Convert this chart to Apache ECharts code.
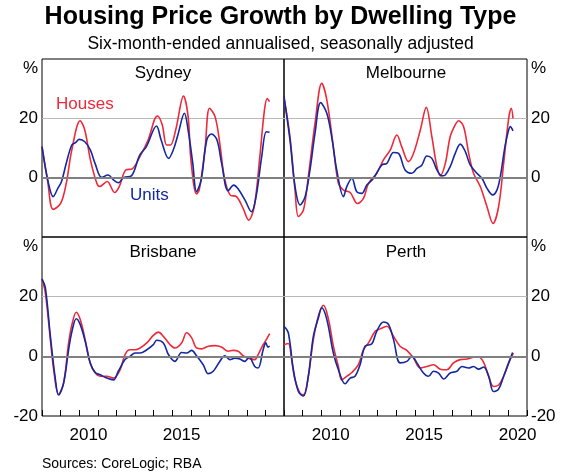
<!DOCTYPE html>
<html>
<head>
<meta charset="UTF-8">
<title>Housing Price Growth by Dwelling Type</title>
<script src="https://cdn.jsdelivr.net/npm/echarts@6/dist/echarts.min.js"></script>
</head>
<body style="margin:0;background:#fff;">
<div id="chart" style="width:561px;height:474px;"></div>
<script>
// six-month-ended annualised growth, per cent, [year, value]
var sydneyHouses = [[2008.0,10.5],[2008.3,-1],[2008.6,-10.7],[2009.0,-8.7],[2009.3,-2],[2009.6,9.3],[2010.05,19.2],[2010.3,16],[2010.6,6],[2010.95,-2],[2011.1,-3],[2011.5,-1.3],[2011.9,-5],[2012.15,-3],[2012.5,2.6],[2012.85,3],[2013.3,7.6],[2013.7,12.7],[2014.2,20.8],[2014.45,18],[2014.7,11],[2014.9,11],[2015.2,16.6],[2015.6,27.5],[2015.85,20.5],[2016.0,6],[2016.3,-5.5],[2016.45,-4],[2016.75,9.3],[2017.0,23.4],[2017.3,20.5],[2017.55,11.6],[2017.8,0],[2018.1,-5.8],[2018.45,-6.4],[2018.8,-10.3],[2019.1,-14.3],[2019.4,-9.8],[2019.7,7],[2019.95,22.8],[2020.1,26.7],[2020.22,25.6]];
var sydneyUnits = [[2008.0,10.5],[2008.35,-2],[2008.6,-6.4],[2008.85,-3.6],[2009.05,-1.3],[2009.3,4.8],[2009.6,11],[2009.8,11.8],[2010.0,12.9],[2010.3,12.1],[2010.6,9.3],[2010.85,4.8],[2011.2,0.1],[2011.55,0.9],[2011.85,-0.8],[2012.1,-1.7],[2012.4,0.1],[2012.8,0.6],[2013.25,7.6],[2013.6,10.4],[2014.15,17.4],[2014.4,12.7],[2014.8,6.5],[2015.05,9.3],[2015.3,14.4],[2015.65,21.7],[2015.85,16],[2016.1,4.8],[2016.3,-4.7],[2016.55,-0.8],[2016.85,12.7],[2017.1,14.7],[2017.4,12.7],[2017.65,4.8],[2018.0,-4.4],[2018.3,-2.5],[2018.55,-3.9],[2018.9,-7.5],[2019.25,-11.5],[2019.5,-6.4],[2019.8,7],[2020.05,15.5],[2020.22,15.3]];

var melbourneHouses = [[2008.0,27],[2008.32,13.8],[2008.59,-4.2],[2008.77,-13.1],[2009.04,-10.9],[2009.3,0.3],[2009.66,18.3],[2010.02,31.8],[2010.29,26.2],[2010.64,10.4],[2010.91,-1.9],[2011.18,-4.2],[2011.54,-5],[2011.93,-8.7],[2012.25,-7],[2012.52,-1.9],[2012.96,1.5],[2013.32,6],[2013.68,9.3],[2014.04,14.4],[2014.3,10.4],[2014.66,5.4],[2014.93,8.2],[2015.29,16],[2015.61,23.7],[2015.91,13.8],[2016.18,3.7],[2016.36,0.6],[2016.63,4.8],[2016.89,13.8],[2017.16,17.8],[2017.34,19.2],[2017.61,17.2],[2017.88,8.2],[2018.14,1.5],[2018.5,-3],[2018.86,-9.8],[2019.18,-15.4],[2019.48,-9.8],[2019.75,4.8],[2020.02,20],[2020.16,23.4],[2020.25,20]];
var melbourneUnits = [[2008.0,27.3],[2008.32,12.7],[2008.59,-3],[2008.86,-9.2],[2009.13,-6.4],[2009.39,2.6],[2009.66,15],[2009.96,25.3],[2010.29,21.7],[2010.55,13.8],[2010.82,2.6],[2011.18,-6.4],[2011.36,-3],[2011.63,-0.2],[2011.89,-4.7],[2012.16,-5.3],[2012.43,-2.5],[2012.79,-0.2],[2013.23,4.3],[2013.5,4.8],[2013.86,8.5],[2014.13,8.2],[2014.48,2.6],[2014.84,1.5],[2015.11,3.1],[2015.38,4.3],[2015.64,7.3],[2015.91,6.5],[2016.18,2.6],[2016.45,0.6],[2016.63,0.9],[2016.89,3.7],[2017.16,8.2],[2017.43,11.3],[2017.7,8.8],[2017.96,4.3],[2018.32,1.5],[2018.59,-0.2],[2018.86,-3.6],[2019.16,-5.8],[2019.39,-4.2],[2019.57,0.3],[2019.79,9.3],[2019.93,13.8],[2020.11,17.2],[2020.25,15.8]];

var brisbaneHouses = [[2008.0,25.8],[2008.18,21.3],[2008.45,5.6],[2008.63,-4.5],[2008.89,-12.9],[2009.16,-9],[2009.43,4.5],[2009.61,10.7],[2009.84,14.8],[2010.05,12.4],[2010.32,5.6],[2010.59,-2.2],[2010.86,-5.6],[2011.13,-6.7],[2011.48,-6.7],[2011.84,-7.3],[2012.2,-4.5],[2012.46,0.6],[2012.73,2.2],[2013.0,2.2],[2013.27,2.8],[2013.63,4.5],[2013.98,7],[2014.25,8.1],[2014.52,6.7],[2014.88,3.9],[2015.14,2.8],[2015.5,4.5],[2015.77,7.9],[2016.04,6.2],[2016.3,2.8],[2016.57,2.5],[2016.93,3.4],[2017.29,3.6],[2017.64,3.1],[2018.0,1.7],[2018.27,2],[2018.54,1.7],[2018.8,0.2],[2019.07,-0.6],[2019.43,-1.1],[2019.61,0.6],[2019.88,3.9],[2020.05,5.6],[2020.23,7.6]];
var brisbaneUnits = [[2008.0,26],[2008.18,23],[2008.45,6.7],[2008.71,-7.3],[2008.89,-12.9],[2009.16,-9],[2009.43,2.2],[2009.61,8.4],[2009.84,12.6],[2010.05,10.7],[2010.32,5],[2010.59,-2.2],[2010.86,-5.4],[2011.13,-6.2],[2011.48,-7.3],[2011.84,-7.9],[2012.1,-5],[2012.46,-1.1],[2012.73,0],[2013.0,1.1],[2013.27,1.1],[2013.63,2.2],[2013.98,3.9],[2014.16,5.4],[2014.52,4.5],[2014.79,0.6],[2015.14,-1.7],[2015.5,1.3],[2015.77,1.1],[2016.04,2],[2016.3,0.2],[2016.66,-2.8],[2016.93,-5.8],[2017.2,-5],[2017.55,-1.7],[2017.82,0.2],[2018.09,-1.1],[2018.36,-0.6],[2018.63,-0.9],[2018.89,-1.7],[2019.13,-0.3],[2019.43,-3.4],[2019.61,-3.9],[2019.88,2.2],[2020.02,4.5],[2020.14,3.1],[2020.23,3.4]];

var perthHouses = [[2008.0,3.9],[2008.23,4.3],[2008.41,-1.1],[2008.59,-7.9],[2008.86,-12.4],[2009.04,-12.9],[2009.3,-6.7],[2009.57,5.6],[2009.84,13.5],[2010.11,17.1],[2010.38,12.4],[2010.64,3.4],[2010.91,-3.4],[2011.09,-7.9],[2011.36,-6.7],[2011.63,-5.4],[2011.98,-2.8],[2012.25,2.2],[2012.52,4.5],[2012.88,8.4],[2013.14,9.2],[2013.5,10.1],[2013.86,6.7],[2014.21,3.4],[2014.57,2],[2014.93,-0.6],[2015.29,-3.9],[2015.64,-3.4],[2016.0,-2.8],[2016.36,-4.3],[2016.71,-4.5],[2017.07,-2.2],[2017.43,-1.1],[2017.79,-0.9],[2018.14,-0.3],[2018.41,-0.2],[2018.68,-2],[2018.95,-6.7],[2019.21,-10.1],[2019.48,-9.6],[2019.75,-6.7],[2020.02,-2.2],[2020.27,1.1]];
var perthUnits = [[2008.0,10.1],[2008.23,7.9],[2008.5,-4.5],[2008.77,-11.8],[2009.04,-13.3],[2009.3,-6.7],[2009.57,6.7],[2009.84,12.9],[2010.02,16.3],[2010.29,12.4],[2010.64,1.1],[2010.91,-4.5],[2011.27,-9.2],[2011.54,-7.3],[2011.8,-6.7],[2012.07,-2.8],[2012.34,3.4],[2012.7,4.2],[2012.96,8.4],[2013.32,11.5],[2013.59,10.7],[2013.86,5.6],[2014.21,-2.2],[2014.57,-1.7],[2014.84,0],[2015.11,-2.2],[2015.46,-5.6],[2015.73,-6.7],[2016.0,-5],[2016.27,-5.6],[2016.54,-7.6],[2016.89,-5.6],[2017.25,-5],[2017.52,-3.4],[2017.88,-3.9],[2018.14,-3.4],[2018.41,-4.3],[2018.68,-3.6],[2018.95,-6.7],[2019.21,-11.8],[2019.48,-11],[2019.75,-6.7],[2020.02,-2.2],[2020.23,1.3]];

var cities = ['Sydney', 'Melbourne', 'Brisbane', 'Perth'];
var housesData = [sydneyHouses, melbourneHouses, brisbaneHouses, perthHouses];
var unitsData = [sydneyUnits, melbourneUnits, brisbaneUnits, perthUnits];
var yTicks = [-20, 0, 20, 40];
var labelYears = [2010, 2015, 2020];

var RED = '#ee2a3a', BLUE = '#1428a0';
var FONT = 'Arial, "Liberation Sans", sans-serif';

var chart = echarts.init(document.getElementById('chart'), null, {renderer: 'canvas'});

var grids = [
	{left: 42, top: 59, width: 242, height: 178, show: true, borderColor: '#000', borderWidth: 1},
	{left: 284, top: 59, width: 243, height: 178, show: true, borderColor: '#000', borderWidth: 1},
	{left: 42, top: 237, width: 242, height: 179, show: true, borderColor: '#000', borderWidth: 1},
	{left: 284, top: 237, width: 243, height: 179, show: true, borderColor: '#000', borderWidth: 1},
	// thin strips along the bottom of the lower panels that carry the year tick marks
	{left: 42, top: 410, width: 242, height: 6},
	{left: 284, top: 410, width: 243, height: 6}
];

var xAxes = [], yAxes = [], series = [];
[0, 1, 2, 3].forEach(function (i) {
	var bottom = i >= 2;
	var right = i % 2 === 1;
	// labels pushed half a year right so they sit mid-year
	xAxes.push({
		type: 'value', gridIndex: i, min: 2008, max: 2021, interval: 1, position: 'bottom',
		axisLine: {show: false, onZero: false},
		axisTick: {show: false},
		splitLine: {show: false},
		axisLabel: {
			show: bottom, margin: 11, color: '#000',
			formatter: function (v) {
				if (labelYears.indexOf(v) < 0) return '';
				if (!right && v === 2020) return '';
				return '{a|' + v + '}';
			},
			rich: {a: {fontSize: 17, color: '#000', fontFamily: FONT, padding: [0, 0, 0, 18.6]}}
		}
	});
	yAxes.push({
		type: 'value', gridIndex: i, min: yTicks[0], max: yTicks[3], interval: 20,
		position: right ? 'right' : 'left',
		axisLine: {show: false, onZero: false}, axisTick: {show: false},
		splitLine: {show: true, lineStyle: {color: ['transparent', 'transparent', '#b8b8b8', 'transparent'], width: 1}},
		axisLabel: {
			margin: 4, fontSize: 17, color: '#000', fontFamily: FONT,
			formatter: function (v) {
				if (v === 40) return '{p|%}';
				if (v === -20 && !bottom) return '';
				return String(v);
			},
			rich: {p: {fontSize: 17, color: '#000', fontFamily: FONT, padding: [18, 0, 0, 0]}}
		}
	});
	// zero line
	series.push({
		type: 'line', xAxisIndex: i, yAxisIndex: i, data: [], z: 1, silent: true,
		markLine: {
			silent: true, symbol: 'none', label: {show: false}, animation: false,
			lineStyle: {color: '#808080', width: 2, type: 'solid'},
			data: [{yAxis: 0}]
		}
	});
	series.push({
		name: 'Houses', type: 'line', xAxisIndex: i, yAxisIndex: i, z: 3,
		data: housesData[i], showSymbol: false, smooth: 0.35,
		lineStyle: {color: RED, width: 1.6}, itemStyle: {color: RED}
	});
	series.push({
		name: 'Units', type: 'line', xAxisIndex: i, yAxisIndex: i, z: 4,
		data: unitsData[i], showSymbol: false, smooth: 0.35,
		lineStyle: {color: BLUE, width: 1.6}, itemStyle: {color: BLUE}
	});
});
// tick strips: a split line at every year
[4, 5].forEach(function (i) {
	xAxes.push({
		type: 'value', gridIndex: i, min: 2008, max: 2021, interval: 1,
		axisLine: {show: false, onZero: false}, axisTick: {show: false}, axisLabel: {show: false},
		splitLine: {show: true, lineStyle: {color: '#000', width: 1}}
	});
	yAxes.push({
		type: 'value', gridIndex: i, min: 0, max: 1, show: false,
		splitLine: {show: false}
	});
});

var panelPos = [[163, 73], [406, 73], [163, 252], [406, 252]];
var graphics = [
	{type: 'text', left: 'center', top: 5, style: {text: 'Housing Price Growth by Dwelling Type', font: 'bold 25px ' + FONT, fill: '#000'}},
	{type: 'text', left: 'center', top: 35, style: {text: 'Six-month-ended annualised, seasonally adjusted', font: '17.5px ' + FONT, fill: '#000'}},
	{type: 'text', x: 56, y: 104, style: {text: 'Houses', font: '17px ' + FONT, fill: RED, verticalAlign: 'middle'}},
	{type: 'text', x: 130, y: 195, style: {text: 'Units', font: '17px ' + FONT, fill: BLUE, verticalAlign: 'middle'}},
	{type: 'text', x: 42, y: 464, style: {text: 'Sources: CoreLogic; RBA', font: '14px ' + FONT, fill: '#000', verticalAlign: 'middle'}}
];
cities.forEach(function (c, i) {
	graphics.push({type: 'text', x: panelPos[i][0], y: panelPos[i][1],
		style: {text: c, font: '17px ' + FONT, fill: '#000', align: 'center', verticalAlign: 'middle'}});
});

chart.setOption({
	animation: false,
	grid: grids,
	xAxis: xAxes,
	yAxis: yAxes,
	series: series,
	graphic: graphics
});
</script>
</body>
</html>
